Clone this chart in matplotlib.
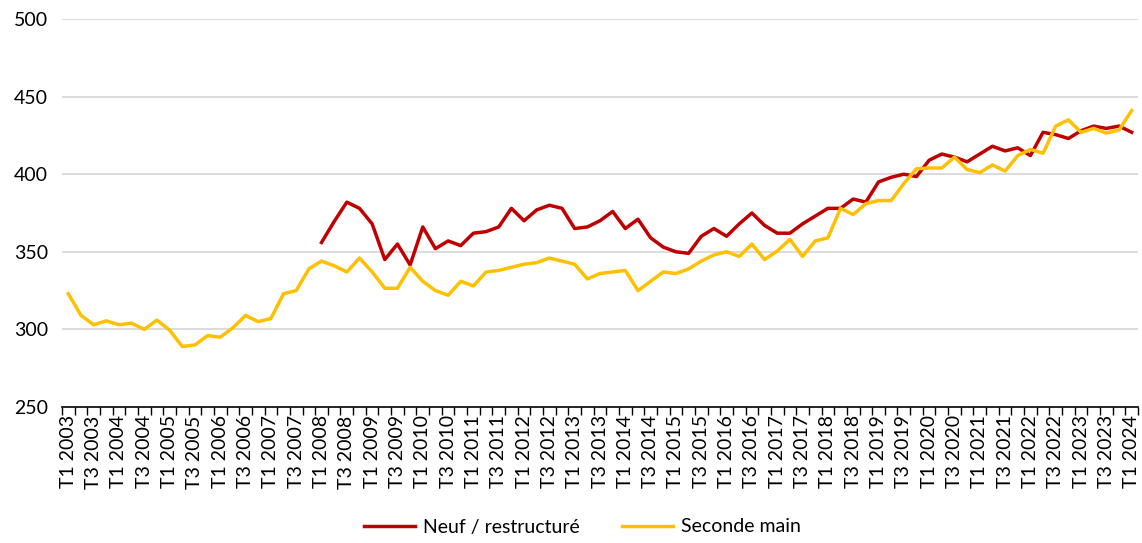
import matplotlib
matplotlib.use("Agg")
import matplotlib.pyplot as plt
import numpy as np

plt.rcParams['font.family'] = ['Lato', 'DejaVu Sans']

years = list(range(2003, 2025))
quarters = []
for y in years:
    for q in (1, 2, 3, 4):
        if y == 2024 and q > 1:
            break
        quarters.append(f"T{q} {y}")

seconde_main = [323, 309, 303, 305.5, 303, 304, 300, 306, 299.5, 289,
                290, 296, 295, 301, 309, 305, 307, 323, 325, 339,
                344, 341, 337, 346, 337, 326.5, 326.5, 340, 331, 325,
                322, 331, 328, 337, 338, 340, 342, 343, 346, 344,
                342, 332.5, 336, 337, 338, 325, 331, 337, 336, 339,
                344, 348, 350, 347, 355, 345, 350.5, 358, 347, 357,
                359, 378, 374, 381, 383, 383, 394, 403.5, 404, 404,
                411, 403, 401, 406, 402, 412, 416, 413.5, 431, 435,
                427, 429.5, 426.5, 428.5, 441]

neuf_start = "T1 2008"
neuf = [356, 369.5, 382, 378, 368, 345, 355, 341.5, 366, 352,
        357, 354, 362, 363, 366, 378, 370, 377, 380, 378,
        365, 366, 370, 376, 365, 371, 359, 353, 350, 349,
        360, 365, 360, 368, 375, 367, 362, 362, 368, 373,
        378, 378, 384, 382, 395, 398, 400, 398.5, 409, 413,
        411, 408, 413, 418, 415, 417, 412, 427, 425.5, 423,
        428, 431, 429.5, 431, 427]

yticks = [250, 300, 350, 400, 450, 500]

fig = plt.figure(figsize=(11.42, 5.43), dpi=100)
ax = fig.add_axes([62/1142, 1-407/543, (1138-62)/1142, (407-19)/543])

x_all = np.arange(len(quarters))
start = quarters.index(neuf_start)
x_neuf = np.arange(start, start + len(neuf))

red = '#C00000'
yellow = '#FFC000'
ax.plot(x_neuf, neuf, color=red, lw=2.5, solid_joinstyle='round', label='Neuf / restructuré', zorder=3)
ax.plot(x_all, seconde_main, color=yellow, lw=2.5, solid_joinstyle='round', label='Seconde main', zorder=3)

ax.set_xlim(-0.5, len(quarters) - 0.5)
ax.set_ylim(250, 500)
ax.set_yticks(yticks)
ax.set_yticklabels([str(v) for v in yticks], fontsize=14)
for v in yticks[1:]:
    ax.axhline(v, color='#d9d9d9', lw=1.3, zorder=1)

ax.set_xticks(x_all[::2])
ax.set_xticklabels(quarters[::2], rotation=90, fontsize=14)
ax.set_xticks(np.arange(-0.5, len(quarters)), minor=True)
ax.tick_params(axis='x', which='major', length=0, pad=6)
ax.tick_params(axis='x', which='minor', length=6, width=1, color='black', direction='out')
ax.tick_params(axis='y', length=0, pad=10)

for s in ('top', 'right', 'left'):
    ax.spines[s].set_visible(False)
ax.spines['bottom'].set_color('black')
ax.spines['bottom'].set_linewidth(1.2)

fig.legend(loc='center', bbox_to_anchor=(0.51, 1-527/543), ncol=2, frameon=False,
           fontsize=14, handlelength=2.6, columnspacing=2.2, handletextpad=0.4)

fig.savefig('out.png', dpi=100)
